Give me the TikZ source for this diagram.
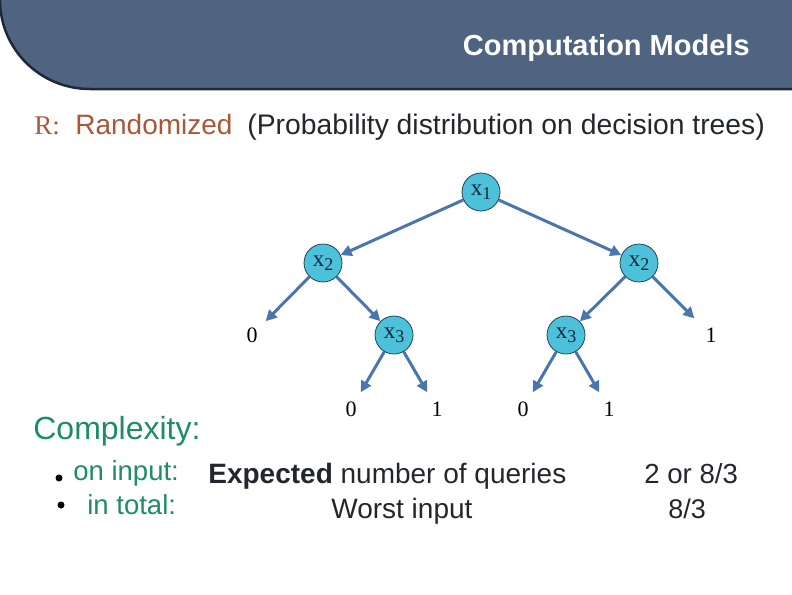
\documentclass[tikz,border=0pt]{standalone}
\usepackage{fontspec}
\setmainfont{Liberation Sans}
\newfontfamily\treefont{Liberation Serif}
\usetikzlibrary{arrows.meta}

\definecolor{headfill}{RGB}{78,100,128}
\definecolor{headline}{RGB}{30,40,55}
\definecolor{varfill}{RGB}{77,192,218}
\definecolor{varline}{RGB}{25,55,75}
\definecolor{vartext}{RGB}{20,40,60}
\definecolor{edgeblue}{RGB}{74,118,174}
\definecolor{rbrown}{RGB}{168,88,56}
\definecolor{cgreen}{RGB}{30,140,100}
\definecolor{textdark}{RGB}{34,38,45}

\tikzset{every picture/.style={line width=0.75pt}}
\tikzset{
  var/.style={circle, draw=varline, fill=varfill, minimum size=38pt, inner sep=0pt,
    font=\treefont\fontsize{23}{23}\selectfont, text=vartext},
  leaf/.style={circle, inner sep=7pt, font=\treefont\fontsize{22}{22}\selectfont, text=black},
  branch/.style={draw=edgeblue, line width=3pt, -{Triangle[length=11pt,width=11pt]}},
  dot/.style={circle, fill=black, inner sep=0pt, minimum size=7pt},
}

\begin{document}
\begin{tikzpicture}[x=1pt,y=1pt,yscale=-1,xscale=1]
\useasboundingbox (0,0) rectangle (792,594);

%Shape: Header [id:hd1]
\fill [headfill] (0,0) .. controls (0,49) and (40,89) .. (90,89) -- (792,89) -- (792,0) -- cycle ;
%Curve Lines [id:hd2]
\draw [headline, line width=2.5pt] (0,0) .. controls (0,49) and (40,89) .. (90,89) -- (792,89) ;

% Text Node
\draw (750,56) node [anchor=base east][inner sep=0pt][font=\bfseries\fontsize{29}{29}\selectfont, text=white] (title) {Computation Models};
% Text Node
\draw (34,134) node [anchor=base west][inner sep=0pt][font=\treefont\fontsize{27}{27}\selectfont, text=rbrown] (rlab) {R:};
% Text Node
\draw (75,134) node [anchor=base west][inner sep=0pt][font=\fontsize{28}{28}\selectfont, text=rbrown] (rname) {Randomized};
% Text Node
\draw (247,134) node [anchor=base west][inner sep=0pt][font=\fontsize{28.3}{28.3}\selectfont, text=textdark] (rnote) {(Probability distribution on decision trees)};

%Shape: Circle [id:x1]
\draw (481,192) node [var] (x1) {x\raisebox{-4pt}{\fontsize{18}{18}\selectfont 1}};
%Shape: Circle [id:x2a]
\draw (323,263) node [var] (x2a) {x\raisebox{-4pt}{\fontsize{18}{18}\selectfont 2}};
%Shape: Circle [id:x2b]
\draw (639,263) node [var] (x2b) {x\raisebox{-4pt}{\fontsize{18}{18}\selectfont 2}};
%Shape: Circle [id:x3a]
\draw (394,335) node [var] (x3a) {x\raisebox{-4pt}{\fontsize{18}{18}\selectfont 3}};
%Shape: Circle [id:x3b]
\draw (566,335) node [var] (x3b) {x\raisebox{-4pt}{\fontsize{18}{18}\selectfont 3}};

% Text Node
\draw (252,335) node [leaf] (l0a) {0};
% Text Node
\draw (711,335) node [leaf, inner sep=10pt] (l1a) {1};
% Text Node
\draw (351,409) node [leaf] (l0b) {0};
% Text Node
\draw (437,409) node [leaf] (l1b) {1};
% Text Node
\draw (523,409) node [leaf] (l0c) {0};
% Text Node
\draw (609,409) node [leaf] (l1c) {1};

%Straight Lines [id:e1]
\draw [branch] (x1) -- (x2a) ;
%Straight Lines [id:e2]
\draw [branch] (x1) -- (x2b) ;
%Straight Lines [id:e3]
\draw [branch] (x2a) -- (l0a) ;
%Straight Lines [id:e4]
\draw [branch] (x2a) -- (x3a) ;
%Straight Lines [id:e5]
\draw [branch] (x2b) -- (x3b) ;
%Straight Lines [id:e6]
\draw [branch] (x2b) -- (l1a) ;
%Straight Lines [id:e7]
\draw [branch] (x3a) -- (l0b) ;
%Straight Lines [id:e8]
\draw [branch] (x3a) -- (l1b) ;
%Straight Lines [id:e9]
\draw [branch] (x3b) -- (l0c) ;
%Straight Lines [id:e10]
\draw [branch] (x3b) -- (l1c) ;

% Text Node
\draw (33,439) node [anchor=base west][inner sep=0pt][font=\fontsize{32}{32}\selectfont, text=cgreen] (cplx) {Complexity:};
%Shape: Circle [id:b1]
\draw (59,478) node [dot] (b1) {};
%Shape: Circle [id:b2]
\draw (61,505) node [dot] (b2) {};
% Text Node
\draw (73,480) node [anchor=base west][inner sep=0pt][font=\fontsize{27.5}{27.5}\selectfont, text=cgreen] (oninp) {on input:};
% Text Node
\draw (87,514) node [anchor=base west][inner sep=0pt][font=\fontsize{27.5}{27.5}\selectfont, text=cgreen] (intot) {in total:};
% Text Node
\draw (208,483) node [anchor=base west][inner sep=0pt][font=\fontsize{28}{28}\selectfont, text=textdark] (expq) {\textbf{Expected} number of queries};
% Text Node
\draw (331,518) node [anchor=base west][inner sep=0pt][font=\fontsize{28}{28}\selectfont, text=textdark] (worst) {Worst input};
% Text Node
\draw (644,483) node [anchor=base west][inner sep=0pt][font=\fontsize{27.6}{27.6}\selectfont, text=textdark] (val1) {2 or 8/3};
% Text Node
\draw (668,518) node [anchor=base west][inner sep=0pt][font=\fontsize{27}{27}\selectfont, text=textdark] (val2) {8/3};

\end{tikzpicture}
\end{document}
